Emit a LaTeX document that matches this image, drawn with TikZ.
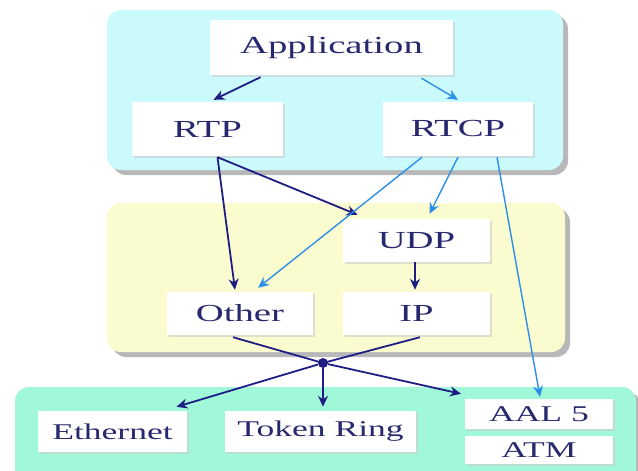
\documentclass[tikz,border=0pt]{standalone}
\usepackage{fontspec}
\setmainfont{Liberation Serif}[FakeStretch=1.58]
\usetikzlibrary{arrows.meta}
\usetikzlibrary{shadows}

\definecolor{navyline}{HTML}{1E1E85}
\definecolor{skyline}{HTML}{2E8FE8}
\definecolor{textblue}{HTML}{28286E}
\definecolor{topfill}{HTML}{CAFAFC}
\definecolor{midfill}{HTML}{FBFBD0}
\definecolor{lowfill}{HTML}{A0F8D8}

\begin{document}
\begin{tikzpicture}[x=1pt, y=-1pt,
    panel/.style = {rounded corners = 14pt, drop shadow = {shadow xshift = 5pt, shadow yshift = -5pt, fill = gray!70, opacity = 0.8}},
    proto/.style = {shape = rectangle, fill = white, text = textblue, inner sep = 0pt, font = \fontsize{24.5}{24}\selectfont, drop shadow = {shadow xshift = 2pt, shadow yshift = -2pt, fill = gray!40, opacity = 0.6}},
    link/.style = {shape = rectangle, fill = white, text = textblue, inner sep = 0pt, font = \fontsize{22.5}{22}\selectfont, drop shadow = {shadow xshift = 2pt, shadow yshift = -2pt, fill = gray!40, opacity = 0.6}},
    dark/.style = {draw = navyline, line width = 1.8pt, -{Stealth[length = 11pt, width = 10pt]}},
    light/.style = {draw = skyline, line width = 1.4pt, -{Stealth[length = 11pt, width = 10pt]}},
    ]
    \useasboundingbox (0, 0) rectangle (638, 471);

    \path[panel, fill = topfill] (107, 10) rectangle (563, 170);
    \path[panel, fill = midfill] (107, 203) rectangle (565, 352);
    \path[panel, fill = lowfill] (15, 387) rectangle (636, 500);

    \node[proto, minimum width = 243pt, minimum height = 55pt] (app) at (331.5, 47.5) {Application};
    \node[proto, minimum width = 151pt, minimum height = 54pt] (rtp) at (207.5, 129) {RTP};
    \node[proto, minimum width = 150pt, minimum height = 54pt] (rtcp) at (458, 129) {RTCP};

    \node[proto, minimum width = 147pt, minimum height = 43pt] (udp) at (416.5, 240.5) {UDP};
    \node[proto, minimum width = 146pt, minimum height = 43pt] (other) at (240, 313.5) {Other};
    \node[proto, minimum width = 147pt, minimum height = 43pt] (ip) at (416.5, 313.5) {IP};

    \node[link, minimum width = 149pt, minimum height = 41pt] (eth) at (112.5, 431.5) {Ethernet};
    \node[link, minimum width = 191pt, minimum height = 41pt] (token) at (320.5, 431.5) {Token Ring};
    \node[link, minimum width = 148pt, minimum height = 30pt] (aal) at (539, 414) {AAL 5};
    \node[link, minimum width = 148pt, minimum height = 28pt] (atm) at (539, 450) {ATM};

    \node[circle, fill = navyline, inner sep = 0pt, minimum size = 10pt] (hub) at (323, 363) {};

    \draw[dark] ([xshift = -71pt, yshift = -2pt]app.south) -- ([xshift = 6pt, yshift = 2pt]rtp.north);
    \draw[light] ([xshift = 90pt, yshift = -3pt]app.south) -- ([xshift = 0pt, yshift = 2pt]rtcp.north);

    \draw[dark] ([xshift = 10pt, yshift = -1pt]rtp.south) -- ([xshift = -5pt, yshift = 2pt]other.north);
    \draw[dark] ([xshift = 10pt, yshift = -1pt]rtp.south) -- ([xshift = -59pt, yshift = 4pt]udp.north);
    \draw[light] ([xshift = -36pt, yshift = -1pt]rtcp.south) -- ([xshift = 18pt, yshift = 4pt]other.north);
    \draw[light] ([xshift = 0pt, yshift = -1pt]rtcp.south) -- ([xshift = 13pt, yshift = 5pt]udp.north);
    \draw[light] ([xshift = 39pt, yshift = -1pt]rtcp.south) -- ([xshift = 1pt, yshift = 2pt]aal.north);

    \draw[dark] ([xshift = -1.5pt]udp.south) -- ([xshift = -1.5pt, yshift = 2pt]ip.north);

    \draw[navyline, line width = 1.8pt] ([xshift = -7pt, yshift = -2pt]other.south) -- (hub.center);
    \draw[navyline, line width = 1.8pt] ([xshift = 3.5pt, yshift = -2pt]ip.south) -- (hub.center);

    \draw[dark] (hub) -- ([xshift = 64pt, yshift = 4pt]eth.north);
    \draw[dark] (hub) -- ([xshift = 2.5pt, yshift = 4pt]token.north);
    \draw[dark] (hub) -- ([xshift = -78pt, yshift = 5pt]aal.north);
\end{tikzpicture}
\end{document}
